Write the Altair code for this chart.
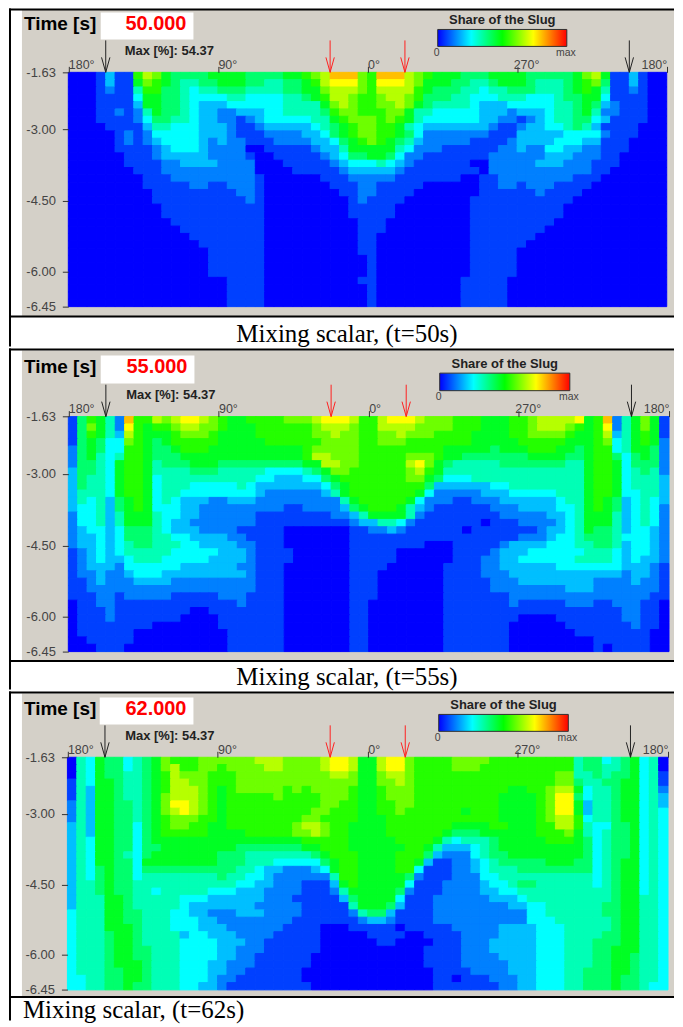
import altair as alt
import pandas as pd

# Colour level of each cell (hex digit 0..f), top row first.
ROWS_50 = [
"00013118 a9766667 77766667 789accc9 8ccca987 77666777 76666679 a7113100",
"00013117 98765566 77766556 678abbb9 8bbba977 76655677 76555678 96113100",
"00012115 88665455 66655556 6779aaa9 8aaaa876 66554556 66555678 75112100",
"00011114 77665444 45544445 5678aa98 89aa9866 65544455 54445667 74111100",
"00011113 77665433 34444445 55579a98 899a9765 55543334 44445567 63211100",
"00011212 57665433 22333445 55568998 88997554 44443332 33345567 52211100",
"00011112 46655433 22123444 44557899 98987544 44443322 12345566 43111100",
"00001111 35544433 32112333 33456789 98875433 33333211 23344565 31111000",
"00000121 24444433 32111222 23346789 98876422 22222111 33333444 42111000",
"00000121 23444432 32211122 22334678 98765322 22211112 33334443 31110000",
"00000111 12344432 22200111 11233577 77754222 11111122 32244332 21110000",
"00000011 12333332 22210011 11123466 77642211 11111222 22233322 21100000",
"00000011 11223333 22220001 11112344 45432111 11100222 22333222 11100000",
"00000001 11222222 22220000 11111233 33321111 11110222 22222222 11000000",
"00000000 11122222 22221000 00011122 22211111 11001122 22222211 10000000",
"00000000 11111221 12221000 00001112 21111100 00001122 12221111 00000000",
"00000000 01111111 11221000 00000112 21111000 00001111 11211110 00000000",
"00000000 01111111 11121000 00000012 11110000 00011111 11111100 00000000",
"00000000 00111111 11111000 00000011 11100000 00011111 11111000 00000000",
"00000000 00111111 11111000 00000011 11100000 00011111 11111000 00000000",
"00000000 00011111 11111000 00000001 11000000 00011111 11110000 00000000",
"00000000 00001111 11111000 00000001 11000000 00011111 11100000 00000000",
"00000000 00000111 11111000 00000001 10000000 00011111 11000000 00000000",
"00000000 00000011 11111000 00000001 10000000 00011111 10000000 00000000",
"00000000 00000001 11111000 00000001 10000000 00011111 00000000 00000000",
"00000000 00000001 11111000 00000000 10000000 00011111 00000000 00000000",
"00000000 00000001 11111000 00000000 10000000 00011111 00000000 00000000",
"00000000 00000001 11111000 00000000 10000000 00011111 00000000 00000000",
"00000000 00000000 01111000 00000001 10000000 00111110 00000000 00000000",
"00000000 00000000 01111000 00000000 10000000 00111110 00000000 00000000",
"00000000 00000000 01111000 00000000 10000000 00111110 00000000 00000000",
"00000000 00000000 01111000 00000000 10000000 00111110 00000000 00000000",
]

ROWS_55 = [
"1687 52c8 8a9abba9 87788889 99abbba8 8abbba99 98887778 89aaaab7 8c257971",
"1697 52b8 7889aa99 87778888 889aaa98 8aaaa999 98887778 89aaa987 8b257971",
"1687 53a8 7778999 8 77778888 8899a998 899a9998 88877778 89999877 8a357871",
"1676 4498 76788888 77777888 88899998 89998888 88877777 88888777 89457872",
"2676 4488 76678887 77777777 78999998 88888888 77777677 78887767 88457762",
"2675 4588 76667777 77777777 78aa9998 88889998 77666666 67777667 88646762",
"2665 4788 75666777 66666666 677a a998 8888ab97 65555566 66666557 88746662",
"3665 4788 75555666 55555444 45679988 88889a87 55555555 55555557 88745652",
"3655 4788 74555555 55554433 34467888 88889976 44455555 55555557 88745553",
"3655 4788 74555444 44543333 33346788 88888863 33333445 55555557 88745553",
"3555 4788 74554444 44443222 22235788 88888742 22223334 44445557 88744553",
"3545 3678 74543332 23332222 22222578 88887422 21122233 33334557 87634543",
"3445 3678 74443322 22222221 12222367 88875321 11111222 33334457 87634542",
"2445 3577 75443322 22221111 11112235 77775211 11111122 22233457 77534542",
"2445 3577 75433222 22221111 11111123 35542111 11110111 22223457 77534542",
"2344 3466 65433322 22111110 00000011 22321111 11011111 11233457 66534432",
"2334 3466 65544333 32211110 00000011 11111111 11111111 22234456 66544432",
"2334 3456 65554433 33221110 00000011 11111100 01111123 33344455 66534432",
"1234 3455 55544444 33321111 00000011 11100000 01111233 34444445 55434432",
"1234 3345 55444443 33321111 00000011 11100000 01112233 44444455 55434332",
"1233 3244 44443333 33221110 00000011 11000000 11112233 33334444 44433321",
"1223 2234 44333333 33321110 00000011 10000000 11112223 33333333 33323321",
"1123 2223 33322222 22221110 00000011 10000000 11111222 33333333 22223221",
"1122 2222 22222222 22221110 00000011 10000000 11111222 22222333 22222221",
"1112 2122 22211111 22211110 00000011 10000000 11111112 22222222 22222211",
"0112 2111 11111111 11211110 00000011 00000000 11111112 11111222 11222110",
"0111 2111 11111001 11111110 00000011 00000000 11111111 11111111 11122110",
"0111 2111 11110000 11111110 00000011 00000000 11111111 00001111 11122110",
"0111 1111 10000000 11111110 00000011 00000000 11111110 00000111 11112110",
"0111 1110 00000000 01111110 00000011 00000000 11111110 00000011 11111100",
"0011 1110 00000000 01111110 00000011 00000000 11111110 00000000 11111100",
"0001 1100 00000000 01111110 00000011 00000000 11111110 00000000 10111100",
]

ROWS_62 = [
"05476645 67988899 9999aaa9 999abba7 7abb9888 89999888 88888856 64567450",
"05476645 679a8899 8999 9aa9 999abba7 7abb9888 89998888 88888856 65567450",
"05476655 678a9998 88999999 9999aa97 79aa9888 88888888 88889955 65667451",
"15477655 678aa998 88999999 99999997 799a9888 88888888 88889965 56677451",
"15377655 678aaa98 78999998 98999987 78999888 88888887 7889aa74 55677452",
"15377655 679aaa98 78888898 88899987 78999888 88888877 7789bb64 55677453",
"25377665 679bba98 78888888 88899887 78899888 88888877 7789bb73 55677453",
"25377665 679aba98 78888888 88998887 78898888 88788877 7789bb73 55677454",
"25377665 67899988 78888888 89988887 77888888 88888877 7789aa84 55677454",
"35377664 67899887 78888888 9aa98877 77888888 87777887 7788aa85 44667454",
"35377664 67888887 77788888 99a98877 77888888 76667777 77888975 45667454",
"35477664 67777777 77777777 78888877 77788887 54555677 77788876 45667454",
"35477664 66777777 77666666 67788877 77778875 33345677 77777776 45667454",
"35477654 67777777 66655555 55678887 77788863 22245667 77777776 45667454",
"35477664 77777777 66655544 44467887 77788731 12234566 66677766 45677454",
"35467664 66666666 66554332 22347887 77788411 12234555 66666666 45677454",
"35467664 55555555 65544322 22225887 77776211 12224455 55555555 45677454",
"35567665 55555555 55443322 21113787 77774111 22223445 66555555 45677454",
"35567665 54555554 44333222 21112577 77762111 22223344 55555555 55677454",
"35557765 55554443 33333222 11111367 77741112 22222333 45555555 55677554",
"35557765 55554333 33332222 21111157 77631112 22222223 34455555 56677554",
"45557766 55544332 22333222 21111125 66311112 22222222 24455555 56677554",
"45557766 55544433 22222222 11111112 33211112 22222222 24445555 55677554",
"45557776 55544433 32222221 11100011 11101111 12222233 33444555 55677554",
"45556776 55553443 33222211 11100000 11110011 11222233 33444555 56677554",
"45556776 55554444 33322111 11100000 01100001 11222333 33444555 66677554",
"45556776 65554444 33222111 11100000 00000011 11222333 33444555 66777554",
"45556776 65554444 33221111 11000000 00000011 11222233 33444555 66776554",
"45556777 65554443 32221111 11000000 00000011 11222223 33444555 66776554",
"45556677 65554443 32211111 10000000 00000001 11122223 33444556 66776554",
"44556677 65554443 22111111 10000000 00000001 10111222 33444556 66766554",
"44556676 65554433 21111111 11000000 00000001 11111122 33444556 66766544",
]

LEVEL_STOPS = [0, 4, 7.5, 11, 15]
LEVEL_COLORS = ["#0000ff", "#00ffff", "#00ff00", "#ffff00", "#ff0000"]
BAR_OFFSETS = [0, 0.26, 0.5, 0.74, 1]

X_TICKS = [-180, -90, 0, 90, 180]
X_LABELS = ["180°", "90°", "0°", "270°", "180°"]
Y_TICK_ROWS = [0, 7.8, 17.57, 27.2, 32]
Y_LABELS = ["-1.63", "-3.00", "-4.50", "-6.00", "-6.45"]
ARROW_ANGLES = [-157.5, -22.5, 22.5, 157.5]
ARROW_COLORS = ["#222222", "#ff2020", "#ff2020", "#222222"]

TIMES = ["50.000", "55.000", "62.000"]
CAPTIONS = ["Mixing scalar, (t=50s)", "Mixing scalar, (t=55s)", "Mixing scalar, (t=62s)"]
MAX_TEXT = "Max [%]: 54.37"
ALL_ROWS = [ROWS_50, ROWS_55, ROWS_62]

# Page layout of each panel: view top, view height, plot x and y ranges in the view,
# gray bottom, white box, colour bar, and caption placement.
VIEW_WIDTH = 667
LAYOUT = [
    dict(h=339, xr=[59.5, 659.7], yr=[64, 299], gt=1, gb=308.5, box=[92, 185, 4, 31], bar=[430, 559.5, 21, 38],
         dx=0, cap=(339, 326, "center")),
    dict(h=342, xr=[59.5, 662], yr=[68.3, 304], gt=2, gb=313, box=[92, 186, 7, 35], bar=[432, 562.5, 24.7, 42.3],
         dx=1.5, cap=(339, 330, "center")),
    dict(h=330, xr=[58.6, 661], yr=[66, 299.3], gt=2, gb=306, box=[91, 185, 6, 33], bar=[431, 561, 23, 40],
         dx=0.5, cap=(14, 320, "left")),
]
FONT = "Liberation Sans"


def one():
    return alt.Chart(alt.Data(values=[{"k": 0}]))


def label(txt, x, y, size, color="#000000", bold=False, align="left", font=FONT):
    return one().mark_text(
        font=font, fontSize=size, color=color, align=align, baseline="middle",
        fontWeight="bold" if bold else "normal",
    ).encode(x=alt.value(x), y=alt.value(y), text=alt.value(txt))


def band(x0, x1, y0, y1, **kw):
    return one().mark_rect(**kw).encode(
        x=alt.value(x0), x2=alt.value(x1), y=alt.value(y0), y2=alt.value(y1)
    )


def panel(i):
    L = LAYOUT[i]
    dx = L["dx"]
    ncol = len(ALL_ROWS[i][0].replace(" ", ""))
    recs = []
    for r, row in enumerate(ALL_ROWS[i]):
        for c, ch in enumerate(row.replace(" ", "")):
            recs.append({
                "a0": -180 + c * 360 / ncol, "a1": -180 + (c + 1) * 360 / ncol,
                "r0": r, "r1": r + 1, "level": int(ch, 16),
            })
    colour = alt.Scale(domain=LEVEL_STOPS, range=LEVEL_COLORS, interpolate="rgb")
    xs = alt.Scale(domain=[-180, 180], range=L["xr"], nice=False, zero=False)
    ys = alt.Scale(domain=[0, 32], range=L["yr"], nice=False, zero=False)
    lab_x = "%s[indexof(%s, datum.value)]" % (X_LABELS, X_TICKS)
    lab_y = "%s[indexof(%s, datum.value)]" % (Y_LABELS, Y_TICK_ROWS)

    heat = alt.Chart(pd.DataFrame(recs)).mark_rect(strokeWidth=1).encode(
        x=alt.X("a0:Q", scale=xs, axis=alt.Axis(
            orient="top", values=X_TICKS, labelExpr=lab_x, title=None, grid=False, domain=False,
            offset=-L["yr"][0], tickSize=6, tickColor="#333333", labelColor="#444444",
            labelFont=FONT, labelFontSize=12.5, labelPadding=-5, labelBaseline="bottom",
            labelAlign={"condition": {"test": "datum.value == 180", "value": "right"}, "value": "left"},
            labelOffset={"condition": {"test": "datum.value == 90", "value": -4}, "value": 0},
            labelOverlap=False, labelFlush=False, labelBound=False, zindex=1)),
        x2="a1:Q",
        y=alt.Y("r0:Q", scale=ys, axis=alt.Axis(
            orient="left", values=Y_TICK_ROWS, labelExpr=lab_y, title=None, grid=False, domain=False,
            offset=-L["xr"][0], tickSize=6, tickColor="#333333", labelColor="#444444",
            labelFont=FONT, labelFontSize=13, labelPadding=7,
            labelOverlap=False, labelFlush=False, labelBound=False, zindex=1)),
        y2="r1:Q",
        color=alt.Color("level:Q", scale=colour, legend=None),
        stroke=alt.Color("level:Q", scale=colour, legend=None),
    )

    arrows_df = pd.DataFrame({"angle": ARROW_ANGLES, "col": ARROW_COLORS})
    arrow_top, arrow_bot = L["yr"][0] - 32, L["yr"][0]
    shaft = alt.Chart(arrows_df).mark_rule(strokeWidth=1).encode(
        x=alt.X("angle:Q", scale=xs), y=alt.value(arrow_top), y2=alt.value(arrow_bot),
        color=alt.Color("col:N", scale=None),
    )
    head = alt.Chart(arrows_df).mark_point(
        shape="M-0.56,-1L0,1L0.56,-1", filled=False, size=225, strokeWidth=1, opacity=1
    ).encode(
        x=alt.X("angle:Q", scale=xs), y=alt.value(arrow_bot - 7.5),
        stroke=alt.Color("col:N", scale=None),
    )

    gradient = alt.LinearGradient(
        gradient="linear", x1=0, x2=1, y1=0, y2=0,
        stops=[alt.GradientStop(offset=o, color=c) for o, c in zip(BAR_OFFSETS, LEVEL_COLORS)],
    )
    b = L["bar"]
    box = L["box"]
    capx, capy, capal = L["cap"]
    layers = [
        band(13, 667, L["gt"], L["gb"], color="#d4d0c8"),
        band(box[0], box[1], box[2], box[3], color="#ffffff"),
        heat,
        shaft,
        head,
        band(b[0], b[1], b[2], b[3], color=gradient, stroke="#303030", strokeWidth=1),
        label("Time [s]", 15, box[2] + 11.5, 19, bold=True),
        label(TIMES[i], box[1] - 7, box[2] + 11.5, 20, color="#ff0000", bold=True, align="right"),
        label(MAX_TEXT, 116 + dx, box[3] + 11.5, 13, bold=True, color="#222222"),
        label("Share of the Slug", (b[0] + b[1]) / 2, b[2] - 9.5, 13, bold=True, align="center", color="#222222"),
        label("0", b[0] - 1, b[3] + 6.5, 10.5, color="#444444", align="center"),
        label("max", b[1] - 1, b[3] + 6.5, 10.5, color="#444444", align="center"),
        label(CAPTIONS[i], capx, capy, 25, color="#000000", align=capal, font="Liberation Serif"),
        one().mark_rule(color="#000000", strokeWidth=2).encode(
            x=alt.value(0), x2=alt.value(VIEW_WIDTH), y=alt.value(1)),
        one().mark_rule(color="#000000", strokeWidth=2).encode(
            x=alt.value(0), x2=alt.value(VIEW_WIDTH), y=alt.value(L["gb"] + 0.5)),
        one().mark_rule(color="#000000", strokeWidth=2).encode(
            x=alt.value(1), y=alt.value(0), y2=alt.value(L["h"])),
    ]
    return alt.layer(*layers).resolve_scale(color="independent", stroke="independent").properties(
        width=VIEW_WIDTH, height=L["h"]
    )


chart = alt.vconcat(panel(0), panel(1), panel(2), spacing=0).properties(
    padding={"left": 0, "top": -2, "right": 0, "bottom": 0}, background="#ffffff"
).configure_view(stroke=None).configure_concat(spacing=0)

chart.save("out.html", embed_options={"renderer": "svg", "actions": False})
